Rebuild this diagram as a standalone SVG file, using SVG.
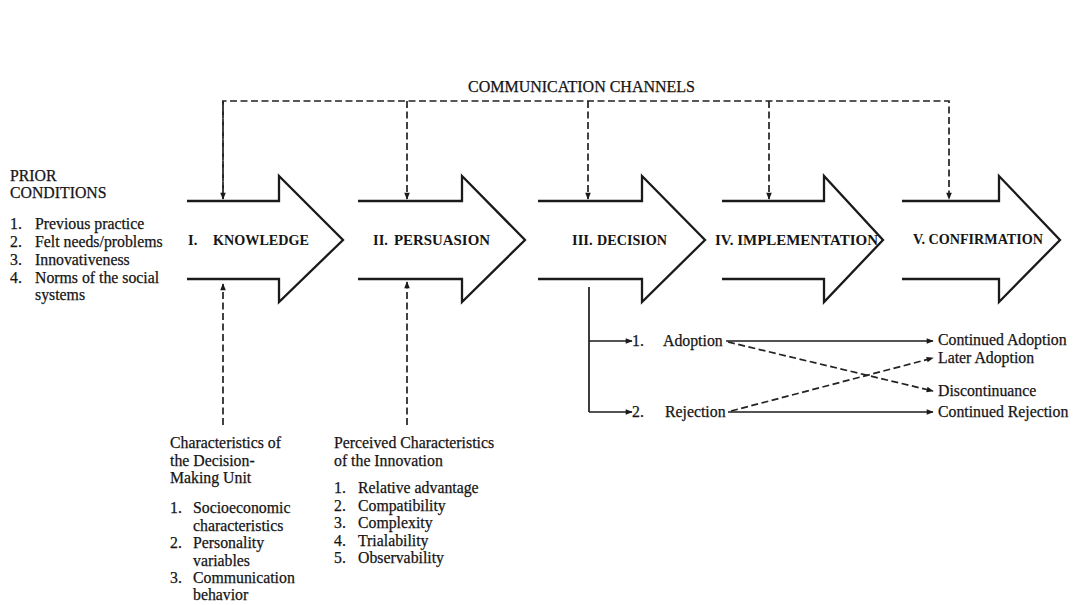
<svg xmlns="http://www.w3.org/2000/svg" width="1073" height="605" viewBox="0 0 1073 605">
  <style>
    .t { font-family: "Liberation Serif", "Times New Roman", serif; font-size: 15.8px; fill: #151515; stroke: #151515; stroke-width: 0.25; }
    .b { font-family: "Liberation Serif", "Times New Roman", serif; font-size: 14.5px; font-weight: bold; fill: #151515; }
    .stage { fill: #ffffff; stroke: #1a1a1a; stroke-width: 2.3; stroke-linejoin: miter; }
    .dash { fill: none; stroke: #222222; stroke-width: 1.7; stroke-dasharray: 7 3.5; }
    .solid { fill: none; stroke: #1a1a1a; stroke-width: 1.7; }
  </style>
  <defs>
    <marker id="ah" viewBox="0 0 10 10" refX="9" refY="5" markerWidth="9" markerHeight="7" markerUnits="userSpaceOnUse" orient="auto">
      <path d="M0,1 L10,5 L0,9 Z" fill="#1a1a1a"/>
    </marker>
  </defs>

  <rect width="1073" height="605" fill="#ffffff"/>

  <!-- Prior conditions -->
  <g id="prior">
    <text class="t" x="10" y="181">PRIOR</text>
    <text class="t" x="10" y="198">CONDITIONS</text>
    <text class="t" x="10" y="229">1.</text><text class="t" x="35" y="229">Previous practice</text>
    <text class="t" x="10" y="247">2.</text><text class="t" x="35" y="247">Felt needs/problems</text>
    <text class="t" x="10" y="265">3.</text><text class="t" x="35" y="265">Innovativeness</text>
    <text class="t" x="10" y="283">4.</text><text class="t" x="35" y="283">Norms of the social</text>
    <text class="t" x="35" y="300">systems</text>
  </g>

  <!-- Stage arrows: open-backed block arrows -->
  <g id="knowledge">
    <path class="stage" d="M187,201 H279 V176 L343,240 L279,302 V279 H187"/>
    <text class="b" x="188" y="245">I.</text>
    <text class="b" x="213" y="245" textLength="96" lengthAdjust="spacingAndGlyphs">KNOWLEDGE</text>
  </g>
  <g id="persuasion">
    <path class="stage" d="M358,201 H462 V176 L525,240 L462,302 V279 H358"/>
    <text class="b" x="373" y="245">II.</text>
    <text class="b" x="394" y="245" textLength="96" lengthAdjust="spacingAndGlyphs">PERSUASION</text>
  </g>
  <g id="decision">
    <path class="stage" d="M538,201 H642 V176 L705,240 L642,302 V279 H538"/>
    <text class="b" x="572" y="245">III.</text>
    <text class="b" x="597" y="245" textLength="70" lengthAdjust="spacingAndGlyphs">DECISION</text>
  </g>
  <g id="implementation">
    <path class="stage" d="M722,201 H824 V176 L883,240 L824,302 V279 H722"/>
    <text class="b" x="715" y="245" textLength="163" lengthAdjust="spacingAndGlyphs">IV. IMPLEMENTATION</text>
  </g>
  <g id="confirmation">
    <path class="stage" d="M902,201 H999 V176 L1060,240 L999,302 V279 H902"/>
    <text class="b" x="913" y="244" textLength="130" lengthAdjust="spacingAndGlyphs">V. CONFIRMATION</text>
  </g>

  <!-- Communication channels -->
  <g id="channels">
    <text class="t" x="468" y="92" textLength="227" lengthAdjust="spacingAndGlyphs">COMMUNICATION CHANNELS</text>
  </g>

  <!-- Outcome labels -->
  <g id="adoption"><text class="t" x="632" y="346">1.</text><text class="t" x="663" y="346">Adoption</text></g>
  <g id="rejection"><text class="t" x="632" y="417">2.</text><text class="t" x="665" y="417">Rejection</text></g>
  <g id="continued-adoption"><text class="t" x="938" y="345">Continued Adoption</text></g>
  <g id="later-adoption"><text class="t" x="938" y="363">Later Adoption</text></g>
  <g id="discontinuance"><text class="t" x="938" y="396">Discontinuance</text></g>
  <g id="continued-rejection"><text class="t" x="938" y="417">Continued Rejection</text></g>

  <!-- Decision-making unit -->
  <g id="decision-unit">
    <text class="t" x="170" y="448">Characteristics of</text>
    <text class="t" x="170" y="466">the Decision-</text>
    <text class="t" x="170" y="483">Making Unit</text>
    <text class="t" x="170" y="513">1.</text><text class="t" x="193" y="513">Socioeconomic</text>
    <text class="t" x="193" y="531">characteristics</text>
    <text class="t" x="170" y="548">2.</text><text class="t" x="193" y="548">Personality</text>
    <text class="t" x="193" y="566">variables</text>
    <text class="t" x="170" y="583">3.</text><text class="t" x="193" y="583">Communication</text>
    <text class="t" x="193" y="600">behavior</text>
  </g>

  <!-- Perceived characteristics -->
  <g id="innovation">
    <text class="t" x="334" y="448">Perceived Characteristics</text>
    <text class="t" x="334" y="466">of the Innovation</text>
    <text class="t" x="334" y="493">1.</text><text class="t" x="358" y="493">Relative advantage</text>
    <text class="t" x="334" y="511">2.</text><text class="t" x="358" y="511">Compatibility</text>
    <text class="t" x="334" y="528">3.</text><text class="t" x="358" y="528">Complexity</text>
    <text class="t" x="334" y="546">4.</text><text class="t" x="358" y="546">Trialability</text>
    <text class="t" x="334" y="563">5.</text><text class="t" x="358" y="563">Observability</text>
  </g>

  <!-- Connectors -->
  <g id="connectors">
    <!-- communication channel bus -->
    <path class="dash" d="M223,199 V101 H949 V199" marker-end="url(#ah)"/>
    <path class="dash" d="M223,101 V199" marker-end="url(#ah)"/>
    <path class="dash" d="M407,101 V199" marker-end="url(#ah)"/>
    <path class="dash" d="M588,101 V199" marker-end="url(#ah)"/>
    <path class="dash" d="M769,101 V199" marker-end="url(#ah)"/>
    <!-- influences from below -->
    <path class="dash" d="M223,425 V284" marker-end="url(#ah)"/>
    <path class="dash" d="M407,425 V282" marker-end="url(#ah)"/>
    <!-- decision branches -->
    <path class="solid" d="M589,287 V412"/>
    <path class="solid" d="M589,341 H632" marker-end="url(#ah)"/>
    <path class="solid" d="M589,412 H632" marker-end="url(#ah)"/>
    <!-- outcomes -->
    <path class="solid" d="M726,341 H933" marker-end="url(#ah)"/>
    <path class="solid" d="M728,412 H933" marker-end="url(#ah)"/>
    <path class="dash" d="M728,342 L933,391" marker-end="url(#ah)"/>
    <path class="dash" d="M731,411 L933,358" marker-end="url(#ah)"/>
  </g>
</svg>
